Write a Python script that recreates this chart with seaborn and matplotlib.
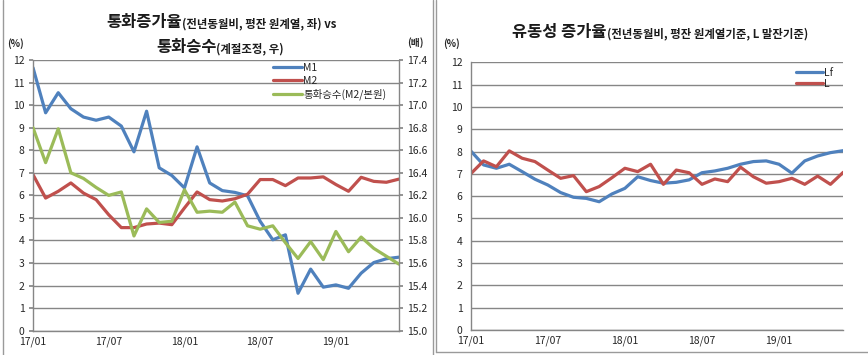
import matplotlib
matplotlib.use("Agg")
import matplotlib.pyplot as plt
import seaborn as sns
import pandas as pd
from matplotlib.lines import Line2D
from matplotlib.offsetbox import TextArea, HPacker, AnchoredOffsetbox

# monthly data 17/01 .. 19/06
months = [f"{y}/{m:02d}" for y in (17, 18, 19) for m in range(1, 13)][:30]
tick_labels = ["17/01", "17/07", "18/01", "18/07", "19/01"]

m1 = [11.66, 9.66, 10.55, 9.84, 9.47, 9.33, 9.47, 9.07, 7.93, 9.73,
      7.22, 6.88, 6.33, 8.15, 6.55, 6.21, 6.13, 5.98, 4.85, 4.03,
      4.25, 1.66, 2.73, 1.93, 2.03, 1.88, 2.55, 3.02, 3.19, 3.26]
m2 = [6.92, 5.88, 6.18, 6.55, 6.10, 5.81, 5.14, 4.57, 4.57, 4.73,
      4.77, 4.70, 5.44, 6.15, 5.81, 5.75, 5.85, 6.05, 6.70, 6.70,
      6.43, 6.77, 6.77, 6.82, 6.48, 6.18, 6.80, 6.62, 6.58, 6.72]
multiplier = [16.80, 16.49, 16.79, 16.40, 16.35, 16.27, 16.20, 16.23, 15.84, 16.08,
              15.96, 15.97, 16.25, 16.05, 16.06, 16.05, 16.14, 15.93, 15.90, 15.93,
              15.78, 15.64, 15.79, 15.63, 15.88, 15.70, 15.83, 15.73, 15.66, 15.59]
lf = [8.03, 7.40, 7.25, 7.43, 7.10, 6.76, 6.50, 6.16, 5.95, 5.90,
      5.75, 6.10, 6.35, 6.87, 6.70, 6.58, 6.62, 6.73, 7.05, 7.13,
      7.25, 7.43, 7.55, 7.58, 7.43, 7.03, 7.58, 7.80, 7.95, 8.04]
l_liq = [7.00, 7.58, 7.32, 8.03, 7.70, 7.55, 7.17, 6.80, 6.92, 6.20,
         6.43, 6.83, 7.25, 7.10, 7.43, 6.53, 7.17, 7.05, 6.53, 6.77,
         6.65, 7.30, 6.87, 6.58, 6.65, 6.80, 6.53, 6.90, 6.53, 7.07]

BLUE = "#4F81BD"
RED = "#C0504D"
GREEN = "#9BBB59"
GRID = "#868686"

sns.set_theme(style="white")
plt.rcParams["font.family"] = ["Noto Sans CJK KR", "DejaVu Sans"]

df = pd.DataFrame({"idx": range(len(months)), "month": months, "M1": m1, "M2": m2,
                   "mult": multiplier, "Lf": lf, "L": l_liq})

W, H = 868, 355
fig = plt.figure(figsize=(W / 100, H / 100), dpi=100)


def px_axes(x0, y0, x1, y1):
    return fig.add_axes([x0 / W, 1 - y1 / H, (x1 - x0) / W, (y1 - y0) / H])


def style_axes(ax):
    ax.set_xlim(0, 29)
    ax.set_ylim(0, 12)
    ax.set_yticks(range(0, 13))
    ax.set_xticks([0, 6, 12, 18, 24])
    ax.set_xticklabels(tick_labels)
    ax.grid(axis="y", color=GRID, linewidth=1.0)
    ax.grid(axis="x", visible=False)
    ax.set_axisbelow(True)
    for s in ["top", "right"]:
        ax.spines[s].set_visible(False)
    for s in ["left", "bottom"]:
        ax.spines[s].set_color(GRID)
        ax.spines[s].set_linewidth(1.0)
    ax.tick_params(axis="x", direction="in", length=3, color=GRID, labelsize=7.5, pad=4)
    ax.tick_params(axis="y", direction="out", length=3, color=GRID, labelsize=7.5, pad=3)
    ax.set_xlabel("")
    ax.set_ylabel("")


# ---- left chart ----
ax1 = px_axes(33, 60, 399, 330.7)
sns.lineplot(data=df, x="idx", y="M1", ax=ax1, color=BLUE, linewidth=2.3, label="M1", legend=False)
sns.lineplot(data=df, x="idx", y="M2", ax=ax1, color=RED, linewidth=2.3, label="M2", legend=False)
style_axes(ax1)

ax1r = ax1.twinx()
sns.lineplot(data=df, x="idx", y="mult", ax=ax1r, color=GREEN, linewidth=2.3,
             label="통화승수(M2/본원)", legend=False)
ax1r.set_ylim(15.0, 17.4)
ax1r.set_yticks([15.0 + 0.2 * i for i in range(13)])
ax1r.set_yticklabels([f"{15.0 + 0.2 * i:.1f}" for i in range(13)])
ax1r.set_ylabel("")
for s in ["top", "left", "bottom"]:
    ax1r.spines[s].set_visible(False)
ax1r.spines["right"].set_color(GRID)
ax1r.spines["right"].set_linewidth(1.0)
ax1r.tick_params(axis="y", direction="out", length=3, color=GRID, labelsize=7.5, pad=3)
ax1r.grid(False)

handles = [Line2D([], [], color=BLUE, lw=2.3), Line2D([], [], color=RED, lw=2.3),
           Line2D([], [], color=GREEN, lw=2.3)]
fig.legend(handles, ["M1", "M2", "통화승수(M2/본원)"], loc="upper left",
           bbox_to_anchor=(273 / W, 1 - 63 / H), frameon=False, fontsize=7.5,
           handlelength=2.8, handletextpad=0.1, labelspacing=0.25,
           borderpad=0, borderaxespad=0)

# ---- right chart ----
ax2 = px_axes(470.7, 62.3, 843.3, 330)
sns.lineplot(data=df, x="idx", y="Lf", ax=ax2, color=BLUE, linewidth=2.3, legend=False)
sns.lineplot(data=df, x="idx", y="L", ax=ax2, color=RED, linewidth=2.3, legend=False)
style_axes(ax2)

fig.legend(handles[:2], ["Lf", "L"], loc="upper left",
           bbox_to_anchor=(796 / W, 1 - 68 / H), frameon=False, fontsize=7.5,
           handlelength=2.6, handletextpad=0.1, labelspacing=0.1,
           borderpad=0, borderaxespad=0)


# ---- titles (mixed font sizes) ----
def mixed_title(parts, cx, cy):
    kids = [TextArea(t, textprops=dict(fontsize=fs, fontweight="bold", color="#1a1a1a"))
            for t, fs in parts]
    box = HPacker(children=kids, align="baseline", pad=0, sep=0)
    anch = AnchoredOffsetbox(loc="center", child=box, frameon=False, pad=0, borderpad=0,
                             bbox_to_anchor=(cx / W, 1 - cy / H),
                             bbox_transform=fig.transFigure)
    fig.add_artist(anch)


mixed_title([("통화증가율", 11.8), ("(전년동월비, 평잔 원계열, 좌) vs", 8.2)], 221, 22)
mixed_title([("통화승수", 11.8), ("(계절조정, 우)", 8.2)], 220, 47)
mixed_title([("유동성 증가율", 11.8), ("(전년동월비, 평잔 원계열기준, L 말잔기준)", 8.2)], 660, 32)

unit_kw = dict(fontsize=7, fontweight="bold", va="center", ha="center")
fig.text(16 / W, 1 - 44 / H, "(%)", **unit_kw)
fig.text(415 / W, 1 - 43 / H, "(배)", **unit_kw)
fig.text(452 / W, 1 - 44 / H, "(%)", **unit_kw)

# panel borders
border = "#9a9a9a"
fig.add_artist(Line2D([3 / W, 3 / W], [0, 1], transform=fig.transFigure, color=border, lw=1))
fig.add_artist(Line2D([433 / W, 433 / W], [0, 1], transform=fig.transFigure, color=border, lw=1))
fig.add_artist(Line2D([436 / W, 436 / W], [1 - 352 / H, 1], transform=fig.transFigure, color=border, lw=1))
fig.add_artist(Line2D([436 / W, 1], [1 - 352 / H, 1 - 352 / H], transform=fig.transFigure, color=border, lw=1))

fig.savefig("out.png", dpi=100)
